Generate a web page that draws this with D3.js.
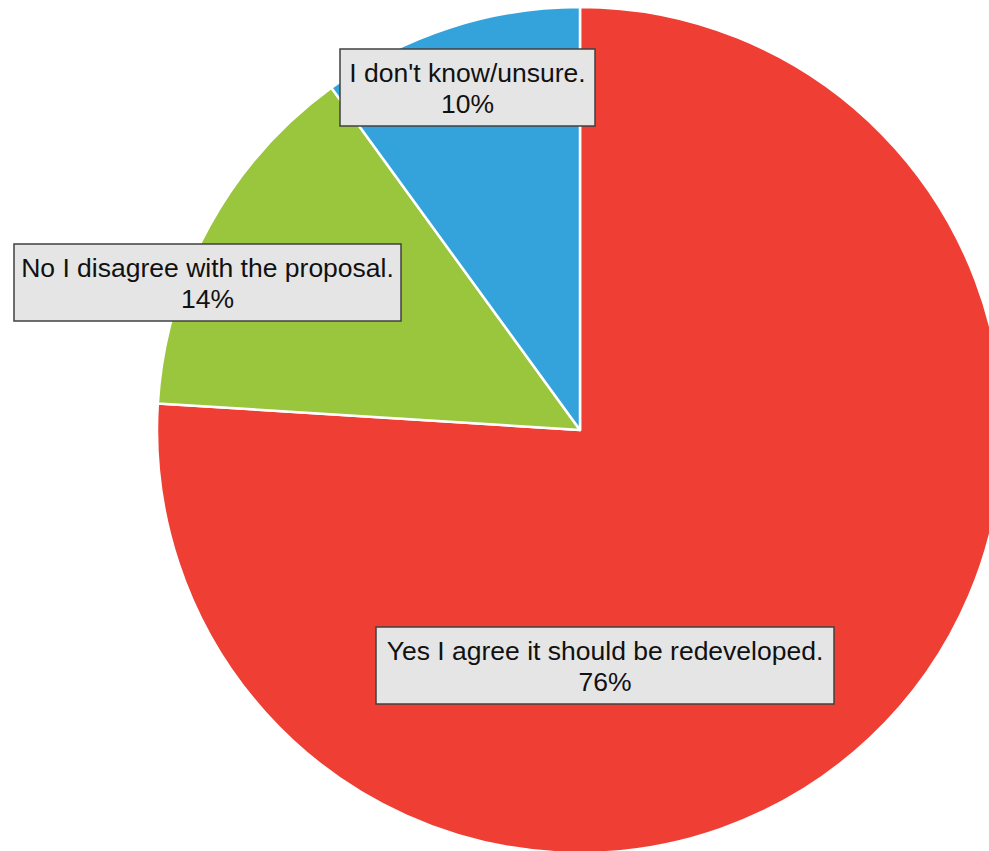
<!DOCTYPE html>
<html>
<head>
<meta charset="utf-8">
<script src="https://d3js.org/d3.v7.min.js"></script>
<style>
  html, body { margin: 0; padding: 0; background: #ffffff; }
  svg { display: block; }
</style>
</head>
<body>
<svg id="chart" width="989" height="851"></svg>
<script>
// ---- data ----
const categories = [
  "Yes I agree it should be redeveloped.",
  "No I disagree with the proposal.",
  "I don't know/unsure."
];
const values = [76, 14, 10];
const percentLabels = ["76%", "14%", "10%"];
const colors = ["#ef3e33", "#9ac63e", "#34a3dc"];

// ---- layout ----
const cx = 580, cy = 430, radius = 423;
// label box centres and widths (as placed in the original)
const labelCentres = [[605, 665.5], [207.5, 282.5], [467.5, 87.5]];
const labelWidths = [458, 387, 255];
const fontSize = 26.5;
const lineGap = 31;

const svg = d3.select("#chart");
const g = svg.append("g").attr("transform", `translate(${cx},${cy})`);

const pie = d3.pie().sort(null).value(d => d.value);
const arc = d3.arc().innerRadius(0).outerRadius(radius);

const data = categories.map((c, i) => ({ name: c, value: values[i], pct: percentLabels[i], color: colors[i] }));
const arcs = pie(data);

g.selectAll("path.slice")
  .data(arcs)
  .join("path")
  .attr("class", "slice")
  .attr("d", arc)
  .attr("fill", d => d.data.color)
  .attr("stroke", "#ffffff")
  .attr("stroke-width", 2.5)
  .attr("stroke-linejoin", "round");

// labels
const lg = svg.append("g");
arcs.forEach((a, i) => {
  const [lx, ly] = labelCentres[i];
  const bw = labelWidths[i], bh = 77;
  const grp = lg.append("g");
  grp.append("rect")
    .attr("x", lx - bw / 2).attr("y", ly - bh / 2)
    .attr("width", bw).attr("height", bh)
    .attr("fill", "#e5e5e5")
    .attr("stroke", "#404040")
    .attr("stroke-width", 1.5);
  grp.append("text")
    .attr("x", lx).attr("y", ly - 6)
    .attr("text-anchor", "middle")
    .attr("font-family", "'Liberation Sans', Arial, sans-serif")
    .attr("font-size", fontSize)
    .attr("fill", "#111")
    .text(a.data.name);
  grp.append("text")
    .attr("x", lx).attr("y", ly - 6 + lineGap)
    .attr("text-anchor", "middle")
    .attr("font-family", "'Liberation Sans', Arial, sans-serif")
    .attr("font-size", fontSize)
    .attr("fill", "#111")
    .text(a.data.pct);
});
</script>
</body>
</html>
